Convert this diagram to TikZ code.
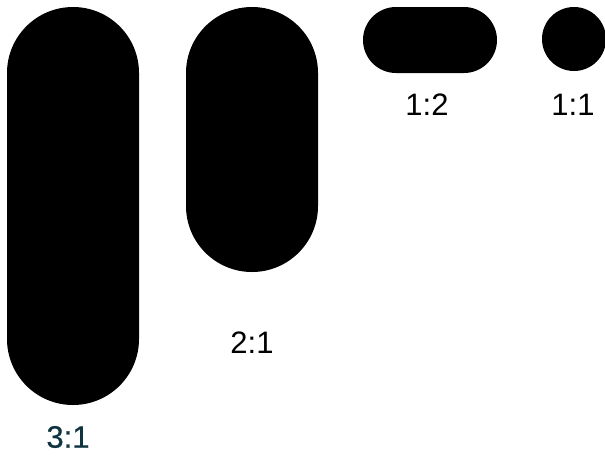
\documentclass[tikz,border=0pt]{standalone}
\usepackage{fontspec}
\setmainfont{Liberation Sans}
\definecolor{deepteal}{HTML}{0F3440}
\tikzset{
  pill/.style={fill=black, draw=none, inner sep=0pt, rounded corners=66pt},
  ratio/.style={font=\fontsize{31}{36}\selectfont, inner sep=0pt}
}
\begin{document}
\begin{tikzpicture}[x=1pt, y=-1pt]
\useasboundingbox (0,0) rectangle (605,456);
% shapes
\node[pill, minimum width=132pt, minimum height=398pt](tall) at (73,206){};
\node[pill, minimum width=132pt, minimum height=265pt](mid) at (252,139.5){};
\node[pill, minimum width=134pt, minimum height=66pt, rounded corners=33pt](wide) at (430,40){};
\node[fill=black, circle, inner sep=0pt, minimum size=64pt](dot) at (574,39){};
% labels
\node[ratio, text=deepteal, font=\fontsize{31}{36}\selectfont\addfontfeature{FakeBold=0.6}](tallLbl) at (68,437){3:1};
\node[ratio](midLbl) at (252,343){2:1};
\node[ratio](wideLbl) at (427,105){1:2};
\node[ratio](dotLbl) at (573,105){1:1};
\end{tikzpicture}
\end{document}
